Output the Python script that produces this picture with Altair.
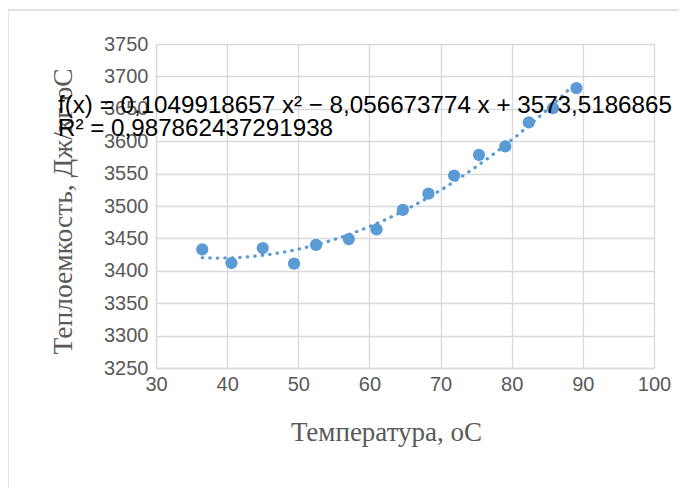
import altair as alt
import pandas as pd

temps = [36.5, 40.6, 45.0, 49.4, 52.5, 57.1, 61.0, 64.7, 68.3, 71.9, 75.4, 79.1, 82.4, 85.8, 89.1]
heat = [3433, 3412, 3435, 3411, 3440, 3449, 3464, 3494, 3519, 3547, 3579, 3592, 3629, 3651, 3682]
x_ticks = [30, 40, 50, 60, 70, 80, 90, 100]
y_ticks = [3250, 3300, 3350, 3400, 3450, 3500, 3550, 3600, 3650, 3700, 3750]
x_title = "Температура, оС"
y_title = "Теплоемкость, Дж/кг оС"
eq_lines = ["f(x) = 0,1049918657 x² − 8,056673774 x + 3573,5186865",
            "R² = 0,987862437291938"]

df = pd.DataFrame({"t": temps, "c": heat})
BLUE = "#5B9BD5"
GRID = "#D9D9D9"
LABEL = "#595959"

xs = alt.Scale(domain=[30, 100], nice=False, zero=False)
ys = alt.Scale(domain=[3250, 3750], nice=False, zero=False)

xax = alt.Axis(values=x_ticks, format="d", grid=True, gridColor=GRID, gridWidth=1.3, domainColor=GRID,
               domainWidth=1.3, ticks=False, labelFont="Liberation Sans", labelFontSize=20,
               labelColor=LABEL, labelPadding=6, labelOverlap=False, labelFlush=False,
               title=x_title, titleFont="Liberation Serif",
               titleFontSize=27, titleFontWeight="normal", titleColor=LABEL,
               titleX=230, titleY=64.5, titleBaseline="middle")
yax = alt.Axis(values=y_ticks, format="d", grid=True, gridColor=GRID, gridWidth=1.3, domainColor=GRID,
               domainWidth=1.3, ticks=False, labelFont="Liberation Sans", labelFontSize=20,
               labelColor=LABEL, labelPadding=8, labelOverlap=False, labelFlush=False,
               title=y_title, titleFont="Liberation Serif",
               titleFontSize=27.5, titleFontWeight="normal", titleColor=LABEL,
               titleX=-92.5, titleY=167, titleBaseline="middle")

base = alt.Chart(df)

trend = base.transform_regression("t", "c", method="poly", order=2).mark_line(
    color=BLUE, strokeWidth=3.2, strokeDash=[0.5, 7], strokeCap="round"
).encode(x=alt.X("t:Q", scale=xs, axis=xax), y=alt.Y("c:Q", scale=ys, axis=yax))

pts = base.mark_circle(size=150, color=BLUE, opacity=1).encode(
    x=alt.X("t:Q", scale=xs, axis=xax), y=alt.Y("c:Q", scale=ys, axis=yax))

eq = alt.Chart(pd.DataFrame({"txt": [eq_lines]})).mark_text(
    align="left", baseline="middle", font="Liberation Sans", fontSize=24.2,
    lineHeight=23, color="#000000"
).encode(x=alt.value(-98), y=alt.value(62), text="txt")

frame_left = alt.Chart(pd.DataFrame({"a": [0]})).mark_rule(color=GRID, strokeWidth=1.5).encode(
    x=alt.value(-148), y=alt.value(-34), y2=alt.value(480))
frame_top = alt.Chart(pd.DataFrame({"a": [0]})).mark_rule(color=GRID, strokeWidth=1.5).encode(
    x=alt.value(-148), x2=alt.value(700), y=alt.value(-34))

chart = alt.layer(frame_left, frame_top, trend, pts, eq).properties(
    width=498, height=324,
    autosize=alt.AutoSizeParams(type="none"),
    padding={"left": 148, "top": 36, "right": 25, "bottom": 120},
).configure_view(stroke=None).configure_axis(labelOverlap=False).configure(background="white")

chart.save("out.html", embed_options={"renderer": "svg", "actions": False})
